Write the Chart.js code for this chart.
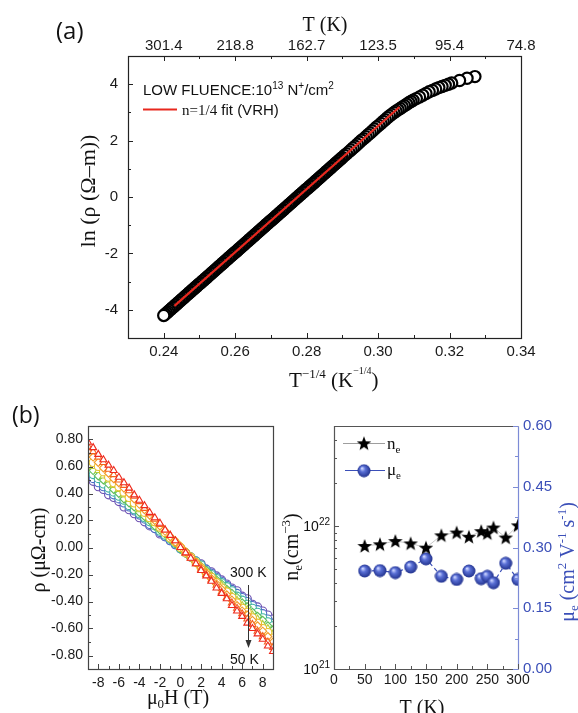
<!DOCTYPE html>
<html><head><meta charset="utf-8">
<script src="https://cdn.jsdelivr.net/npm/chart.js@4.4.1/dist/chart.umd.min.js"></script>
<style>
html,body{margin:0;padding:0;background:#fff;width:578px;height:713px;overflow:hidden}
.c{position:absolute}
</style></head><body>
<div class="c" style="left:0;top:0;width:578px;height:400px"><canvas id="ca"></canvas></div>
<div class="c" style="left:0;top:400px;width:300px;height:313px"><canvas id="cb1"></canvas></div>
<div class="c" style="left:270px;top:400px;width:308px;height:313px"><canvas id="cb2"></canvas></div>
<script>
// ---------- DATA: panel (a) ----------
const lnX = [
0.2400,0.2404,0.2408,0.2412,0.2416,0.2420,0.2424,0.2428,0.2432,0.2436,0.2440,0.2444,0.2448,0.2452,0.2456,0.2460,0.2464,0.2468,0.2472,0.2476,0.2480,0.2484,0.2488,0.2492,0.2496,
0.2500,0.2504,0.2508,0.2512,0.2516,0.2520,0.2524,0.2528,0.2532,0.2536,0.2540,0.2544,0.2548,0.2552,0.2556,0.2560,0.2564,0.2568,0.2572,0.2576,0.2580,0.2584,0.2588,0.2592,0.2596,
0.2600,0.2604,0.2608,0.2612,0.2616,0.2620,0.2624,0.2628,0.2632,0.2636,0.2640,0.2644,0.2648,0.2652,0.2656,0.2660,0.2664,0.2668,0.2672,0.2676,0.2680,0.2684,0.2688,0.2692,0.2696,
0.2700,0.2704,0.2708,0.2712,0.2716,0.2720,0.2724,0.2728,0.2732,0.2736,0.2740,0.2744,0.2748,0.2752,0.2756,0.2760,0.2764,0.2768,0.2772,0.2776,0.2780,0.2784,0.2788,0.2792,0.2796,
0.2800,0.2804,0.2808,0.2812,0.2816,0.2820,0.2824,0.2828,0.2832,0.2836,0.2840,0.2844,0.2848,0.2852,0.2856,0.2860,0.2864,0.2868,0.2872,0.2876,0.2880,0.2884,0.2888,0.2892,0.2896,
0.2900,
0.2906,0.2912,0.2918,0.2924,0.2930,0.2936,0.2942,0.2948,0.2954,0.2960,0.2966,0.2972,0.2978,0.2984,0.2990,0.2996,0.3002,0.3008,0.3014,0.3020,0.3026,0.3032,0.3038,0.3044,0.3050,0.3056,0.3062,0.3068,0.3074,0.3080,0.3086,0.3092,0.3098,
0.3107,0.3116,0.3125,0.3134,0.3143,0.3152,0.3161,0.3170,0.3179,0.3188,0.3197,0.3206,
0.3228,0.3249,0.3271];
const lnRho = [
-4.20,-4.16,-4.11,-4.07,-4.02,-3.98,-3.93,-3.89,-3.84,-3.80,-3.75,-3.71,-3.66,-3.62,-3.57,-3.53,-3.48,-3.44,-3.39,-3.35,-3.30,-3.26,-3.21,-3.17,-3.12,
-3.08,-3.04,-2.99,-2.95,-2.90,-2.86,-2.81,-2.77,-2.72,-2.68,-2.63,-2.59,-2.54,-2.50,-2.45,-2.41,-2.36,-2.32,-2.27,-2.23,-2.18,-2.14,-2.09,-2.05,-2.00,
-1.96,-1.92,-1.87,-1.83,-1.78,-1.74,-1.69,-1.65,-1.60,-1.56,-1.51,-1.47,-1.42,-1.38,-1.33,-1.29,-1.24,-1.20,-1.15,-1.11,-1.06,-1.02,-0.97,-0.93,-0.88,
-0.84,-0.80,-0.75,-0.71,-0.66,-0.62,-0.57,-0.53,-0.48,-0.44,-0.39,-0.35,-0.30,-0.26,-0.21,-0.17,-0.12,-0.08,-0.03,0.01,0.06,0.10,0.15,0.19,0.24,
0.28,0.32,0.37,0.41,0.46,0.50,0.55,0.59,0.64,0.68,0.73,0.77,0.82,0.86,0.91,0.95,1.00,1.04,1.09,1.13,1.18,1.22,1.27,1.31,1.36,
1.40,
1.47,1.53,1.60,1.67,1.74,1.80,1.87,1.94,2.01,2.07,2.14,2.21,2.27,2.34,2.41,2.48,2.54,2.61,2.68,2.74,2.81,2.87,2.93,2.99,3.04,3.09,3.14,3.19,3.24,3.29,3.34,3.39,3.43,
3.49,3.55,3.61,3.67,3.73,3.78,3.83,3.88,3.92,3.96,4.00,4.04,
4.13,4.21,4.27];
const fitX = [0.243, 0.306];
const fitY = [-3.86, 3.19];
const xTicksA = [0.24,0.26,0.28,0.30,0.32,0.34];
const xMinorA = [0.23,0.25,0.27,0.29,0.31,0.33];
const yTicksA = [-4,-2,0,2,4];
const yMinorA = [-3,-1,1,3];

// ---------- DATA: panel (b) left, Hall resistivity ----------
const fieldH = [-9,-8.5,-8,-7.5,-7,-6.5,-6,-5.5,-5,-4.5,-4,-3.5,-3,-2.5,-2,-1.5,-1,-0.5,0,0.5,1,1.5,2,2.5,3,3.5,4,4.5,5,5.5,6,6.5,7,7.5,8,8.5,9];
const rho50K  = [0.78,0.74,0.69,0.65,0.61,0.57,0.52,0.48,0.44,0.39,0.35,0.31,0.26,0.22,0.18,0.13,0.09,0.05,0.00,-0.04,-0.08,-0.12,-0.17,-0.21,-0.25,-0.30,-0.34,-0.38,-0.43,-0.47,-0.51,-0.56,-0.60,-0.64,-0.68,-0.73,-0.77];
const rho75K  = [0.75,0.71,0.67,0.63,0.58,0.54,0.50,0.46,0.42,0.38,0.34,0.29,0.25,0.21,0.17,0.13,0.09,0.05,0.00,-0.04,-0.08,-0.12,-0.16,-0.20,-0.24,-0.28,-0.33,-0.37,-0.41,-0.45,-0.49,-0.53,-0.57,-0.62,-0.66,-0.70,-0.74];
const rho100K = [0.71,0.67,0.63,0.59,0.55,0.51,0.48,0.44,0.40,0.36,0.32,0.28,0.24,0.20,0.16,0.12,0.08,0.04,0.01,-0.03,-0.07,-0.11,-0.15,-0.19,-0.23,-0.27,-0.31,-0.35,-0.39,-0.43,-0.47,-0.50,-0.54,-0.58,-0.62,-0.66,-0.70];
const rho150K = [0.67,0.63,0.60,0.56,0.52,0.48,0.45,0.41,0.37,0.33,0.30,0.26,0.22,0.19,0.15,0.11,0.07,0.04,0.00,-0.04,-0.07,-0.11,-0.15,-0.19,-0.22,-0.26,-0.30,-0.33,-0.37,-0.41,-0.45,-0.48,-0.52,-0.56,-0.60,-0.63,-0.67];
const rho200K = [0.64,0.60,0.57,0.53,0.50,0.46,0.43,0.39,0.36,0.32,0.28,0.25,0.21,0.18,0.14,0.11,0.07,0.04,0.00,-0.04,-0.07,-0.11,-0.14,-0.18,-0.21,-0.25,-0.28,-0.32,-0.36,-0.39,-0.43,-0.46,-0.50,-0.53,-0.57,-0.60,-0.64];
const rho225K = [0.60,0.57,0.53,0.50,0.47,0.43,0.40,0.36,0.33,0.30,0.26,0.23,0.20,0.16,0.13,0.10,0.06,0.03,-0.01,-0.04,-0.07,-0.11,-0.14,-0.17,-0.21,-0.24,-0.27,-0.31,-0.34,-0.37,-0.41,-0.44,-0.48,-0.51,-0.54,-0.58,-0.61];
const rho250K = [0.57,0.54,0.51,0.47,0.44,0.41,0.38,0.35,0.31,0.28,0.25,0.22,0.19,0.16,0.12,0.09,0.06,0.03,-0.01,-0.04,-0.07,-0.10,-0.13,-0.17,-0.20,-0.23,-0.26,-0.29,-0.32,-0.36,-0.39,-0.42,-0.45,-0.48,-0.52,-0.55,-0.58];
const rho275K = [0.54,0.51,0.48,0.45,0.42,0.39,0.36,0.33,0.30,0.27,0.24,0.21,0.17,0.14,0.11,0.08,0.05,0.02,-0.01,-0.04,-0.07,-0.10,-0.13,-0.16,-0.19,-0.22,-0.25,-0.28,-0.31,-0.34,-0.37,-0.40,-0.43,-0.46,-0.49,-0.53,-0.56];
const rho300K = [0.51,0.49,0.45,0.43,0.39,0.37,0.34,0.30,0.28,0.25,0.22,0.19,0.16,0.14,0.10,0.08,0.05,0.02,-0.01,-0.04,-0.07,-0.10,-0.12,-0.16,-0.18,-0.21,-0.24,-0.27,-0.30,-0.32,-0.36,-0.38,-0.42,-0.44,-0.47,-0.50,-0.53];
const hallSeries = [rho50K,rho75K,rho100K,rho150K,rho200K,rho225K,rho250K,rho275K,rho300K];
const hallColors = ['#ee2a1c','#f4621e','#f39a24','#e6c22a','#b2cf3c','#5fbf58','#3fb3a4','#4b6cc6','#6a4db0'];
const hallStyles = ['triangle','triangle','rectRot','circle','triangle','rectRot','circle','circle','circle'];
const xTicksB1 = [-8,-6,-4,-2,0,2,4,6,8];
const xMinorB1 = [-7,-5,-3,-1,1,3,5,7];
const yTicksB1 = [-0.8,-0.6,-0.4,-0.2,0,0.2,0.4,0.6,0.8];
const yMinorB1 = [-0.7,-0.5,-0.3,-0.1,0.1,0.3,0.5,0.7];

// ---------- DATA: panel (b) right ----------
const tempK = [50,75,100,125,150,175,200,220,240,250,260,280,300];
const nE    = [7.25e21,7.45e21,7.85e21,7.55e21,7.05e21,8.6e21,9.0e21,8.4e21,9.2e21,8.9e21,9.75e21,8.3e21,1.01e22];
const muE   = [0.242,0.243,0.238,0.252,0.272,0.229,0.221,0.242,0.223,0.229,0.213,0.261,0.221];
const xTicksB2 = [0,50,100,150,200,250,300];
const xMinorB2 = [25,75,125,175,225,275];
const yLogMajor = [1e21,1e22];
const yLogMinor = [2e21,3e21,4e21,5e21,6e21,7e21,8e21,9e21,2e22,3e22,4e22];
const muTicks = [0,0.15,0.30,0.45,0.60];
const muMinor = [0.075,0.225,0.375,0.525];

// ---------- helpers ----------
const SANS = '"Liberation Sans", Arial, sans-serif';
const SERIF = '"Liberation Serif", "Times New Roman", serif';
const BLUE = '#3b4fb8';
function rich(ctx, segs, x, y, align, rot, color) {
  ctx.save(); ctx.translate(x, y); if (rot) ctx.rotate(rot);
  ctx.fillStyle = color || '#111'; ctx.textBaseline = 'alphabetic'; ctx.textAlign = 'left';
  let w = 0;
  for (const s of segs) { ctx.font = s[1] + 'px ' + (s[3] || SERIF); w += ctx.measureText(s[0]).width; }
  let cx = align === 'center' ? -w / 2 : (align === 'right' ? -w : 0);
  for (const s of segs) { ctx.font = s[1] + 'px ' + (s[3] || SERIF); ctx.fillText(s[0], cx, s[2] || 0); cx += ctx.measureText(s[0]).width; }
  ctx.restore();
}
function tickH(ctx, scale, vals, yEdge, dir, len) {
  for (const v of vals) { const p = Math.round(scale.getPixelForValue(v)) + 0.5; ctx.beginPath(); ctx.moveTo(p, yEdge); ctx.lineTo(p, yEdge + dir * len); ctx.stroke(); }
}
function tickV(ctx, scale, vals, xEdge, dir, len) {
  for (const v of vals) { const p = Math.round(scale.getPixelForValue(v)) + 0.5; ctx.beginPath(); ctx.moveTo(xEdge, p); ctx.lineTo(xEdge + dir * len, p); ctx.stroke(); }
}
function setTicks(arr) { return s => { s.ticks = arr.map(v => ({ value: v })); }; }
function hideGrid() { return { display: false, drawTicks: false }; }

// marker images
const starImg = document.createElement('canvas'); starImg.width = 16; starImg.height = 16;
(function () { const c = starImg.getContext('2d'); c.fillStyle = '#000'; c.beginPath();
  for (let i = 0; i < 10; i++) { const r = i % 2 ? 3.2 : 7.6; const a = -Math.PI / 2 + i * Math.PI / 5; c.lineTo(8 + r * Math.cos(a), 8.6 + r * Math.sin(a)); }
  c.closePath(); c.fill(); })();
const ballImg = document.createElement('canvas'); ballImg.width = 14; ballImg.height = 14;
(function () { const c = ballImg.getContext('2d'); const g = c.createRadialGradient(5, 4.5, 0.5, 7, 7, 6.8);
  g.addColorStop(0, '#c9d2ff'); g.addColorStop(0.35, '#5a70d6'); g.addColorStop(1, '#1f2f8a');
  c.fillStyle = g; c.beginPath(); c.arc(7, 7, 6.5, 0, Math.PI * 2); c.fill(); })();

Chart.defaults.animation = false;
Chart.defaults.events = [];
Chart.defaults.plugins.legend.display = false;
Chart.defaults.plugins.tooltip.enabled = false;

// ---------- Panel (a) ----------
const ptsA = lnX.map((x, i) => ({ x: x, y: lnRho[i] })).reverse();
new Chart(document.getElementById('ca'), {
  type: 'scatter',
  data: { datasets: [
    { data: fitX.map((x, i) => ({ x: x, y: fitY[i] })), showLine: true, borderColor: '#e8281e', borderWidth: 2.2, pointRadius: 0 },
    { data: ptsA, pointRadius: 5.6, pointBorderWidth: 2.2, borderColor: '#000', backgroundColor: '#fff' }
  ] },
  options: {
    responsive: true, maintainAspectRatio: false,
    layout: { padding: { left: 0, right: 57, top: 0, bottom: 0 } },
    scales: {
      x: { type: 'linear', position: 'bottom', min: 0.23, max: 0.34, afterBuildTicks: setTicks(xTicksA), afterFit: s => { s.height = 62; },
        grid: hideGrid(), border: { display: false },
        ticks: { font: { family: SANS, size: 15 }, color: '#1a1a1a', padding: 5, maxRotation: 0, autoSkip: false, callback: v => v.toFixed(2) } },
      xTop: { type: 'linear', position: 'top', min: 0.23, max: 0.34, afterBuildTicks: setTicks(xTicksA), afterFit: s => { s.height = 56; },
        grid: hideGrid(), border: { display: false },
        ticks: { font: { family: SANS, size: 15 }, color: '#1a1a1a', padding: 1, maxRotation: 0, autoSkip: false, callback: v => (1 / Math.pow(v, 4)).toFixed(1) } },
      y: { type: 'linear', min: -5, max: 5, afterBuildTicks: setTicks(yTicksA), afterFit: s => { s.width = 128; },
        grid: hideGrid(), border: { display: false },
        ticks: { font: { family: SANS, size: 15 }, color: '#1a1a1a', padding: 10, callback: v => String(v) } }
    }
  },
  plugins: [{ id: 'decA', afterDatasetsDraw(chart) {
    const ctx = chart.ctx, a = chart.chartArea, sc = chart.scales;
    ctx.save(); ctx.strokeStyle = '#222'; ctx.lineWidth = 1.2;
    ctx.strokeRect(Math.round(a.left) + 0.5, Math.round(a.top) + 0.5, Math.round(a.right - a.left), Math.round(a.bottom - a.top));
    ctx.lineWidth = 1;
    tickH(ctx, sc.x, xTicksA, a.bottom, -1, 5); tickH(ctx, sc.x, xMinorA, a.bottom, -1, 3);
    tickH(ctx, sc.xTop, xTicksA, a.top, 1, 5); tickH(ctx, sc.xTop, xMinorA, a.top, 1, 3);
    tickV(ctx, sc.y, yTicksA, a.left, 1, 5); tickV(ctx, sc.y, yMinorA, a.left, 1, 3);
    // legend
    ctx.strokeStyle = '#e8281e'; ctx.lineWidth = 2.2; ctx.beginPath(); ctx.moveTo(143, 109.5); ctx.lineTo(177, 109.5); ctx.stroke();
    ctx.restore();
    rich(ctx, [['LOW FLUENCE:10', 15, 0, SANS], ['13', 10, -6, SANS], [' N', 15, 0, SANS], ['+', 10, -6, SANS], ['/cm', 15, 0, SANS], ['2', 10, -6, SANS]], 143, 95, 'left');
    rich(ctx, [['n=1/4', 15, 0, SERIF], [' fit (VRH)', 15, 0, SANS]], 182, 115, 'left');
    rich(ctx, [['(a)', 24, 0, '"Open Sans", ' + SANS]], 56, 39, 'left');
    rich(ctx, [['T (K)', 20, 0]], 325, 31, 'center');
    rich(ctx, [['ln (ρ (Ω–m))', 22, 0]], 95, 191, 'center', -Math.PI / 2);
    rich(ctx, [['T', 21, 0], ['−1/4', 13, -9], [' (K', 21, 0], ['−1/4', 10, -13], [')', 21, 0]], 289, 387, 'left');
  } }]
});

// ---------- Panel (b) left ----------
new Chart(document.getElementById('cb1'), {
  type: 'scatter',
  data: { datasets: hallSeries.map((ser, k) => ({
    data: fieldH.map((h, i) => ({ x: h, y: ser[i] })),
    pointStyle: hallStyles[k], pointRadius: 4, pointBorderWidth: 1.1,
    borderColor: hallColors[k], backgroundColor: '#fff', clip: 0
  })) },
  options: {
    responsive: true, maintainAspectRatio: false,
    layout: { padding: { left: 0, right: 27, top: 26, bottom: 0 } },
    scales: {
      x: { type: 'linear', min: -9, max: 9, afterBuildTicks: setTicks(xTicksB1), afterFit: s => { s.height = 44; },
        grid: hideGrid(), border: { display: false },
        ticks: { font: { family: SANS, size: 14 }, color: '#1a1a1a', padding: 6, maxRotation: 0, autoSkip: false, callback: v => String(v) } },
      y: { type: 'linear', min: -0.9, max: 0.9, afterBuildTicks: setTicks(yTicksB1), afterFit: s => { s.width = 88; },
        grid: hideGrid(), border: { display: false },
        ticks: { font: { family: SANS, size: 14 }, color: '#1a1a1a', padding: 5, autoSkip: false, callback: v => v.toFixed(2) } }
    }
  },
  plugins: [{ id: 'decB1', afterDatasetsDraw(chart) {
    const ctx = chart.ctx, a = chart.chartArea, sc = chart.scales;
    ctx.save(); ctx.strokeStyle = '#444'; ctx.lineWidth = 1.2;
    ctx.strokeRect(Math.round(a.left) + 0.5, Math.round(a.top) + 0.5, Math.round(a.right - a.left), Math.round(a.bottom - a.top));
    ctx.lineWidth = 1;
    tickH(ctx, sc.x, xTicksB1, a.bottom, -1, 5); tickH(ctx, sc.x, xMinorB1, a.bottom, -1, 3);
    tickV(ctx, sc.y, yTicksB1, a.left, 1, 5); tickV(ctx, sc.y, yMinorB1, a.left, 1, 3);
    // arrow 300 K -> 50 K
    ctx.strokeStyle = '#333'; ctx.lineWidth = 1; ctx.beginPath(); ctx.moveTo(248.5, 185); ctx.lineTo(248.5, 242); ctx.stroke();
    ctx.fillStyle = '#333'; ctx.beginPath(); ctx.moveTo(245.5, 240); ctx.lineTo(251.5, 240); ctx.lineTo(248.5, 248); ctx.closePath(); ctx.fill();
    ctx.restore();
    rich(ctx, [['300 K', 14, 0, SANS]], 230, 176.5, 'left');
    rich(ctx, [['50 K', 14, 0, SANS]], 230, 263.5, 'left');
    rich(ctx, [['(b)', 23, 0, '"Open Sans", ' + SANS]], 12, 23, 'left');
    rich(ctx, [['ρ (μΩ-cm)', 20, 0]], 45, 150, 'center', -Math.PI / 2);
    rich(ctx, [['μ', 20, 0], ['0', 13, 4], ['H (T)', 20, 0]], 178, 304, 'center');
  } }]
});

// ---------- Panel (b) right ----------
new Chart(document.getElementById('cb2'), {
  type: 'scatter',
  data: { datasets: [
    { data: tempK.map((t, i) => ({ x: t, y: nE[i] })), yAxisID: 'y', pointStyle: starImg, showLine: true,
      borderColor: 'rgba(80,80,80,0.55)', borderWidth: 0.6, clip: 0 },
    { data: tempK.map((t, i) => ({ x: t, y: muE[i] })), yAxisID: 'y2', pointStyle: ballImg, showLine: true,
      borderColor: BLUE, borderWidth: 1.2, borderDash: [4, 3], clip: 0 }
  ] },
  options: {
    responsive: true, maintainAspectRatio: false,
    layout: { padding: { left: 0, right: 0, top: 26, bottom: 0 } },
    scales: {
      x: { type: 'linear', min: 0, max: 300, afterBuildTicks: setTicks(xTicksB2), afterFit: s => { s.height = 44; },
        grid: hideGrid(), border: { display: false },
        ticks: { font: { family: SANS, size: 14 }, color: '#1a1a1a', padding: 3, maxRotation: 0, autoSkip: false, callback: v => String(v) } },
      y: { type: 'logarithmic', position: 'left', min: 1e21, max: 5e22, afterBuildTicks: setTicks(yLogMajor), afterFit: s => { s.width = 64; },
        grid: hideGrid(), border: { display: false }, ticks: { display: false } },
      y2: { type: 'linear', position: 'right', min: 0, max: 0.6, afterBuildTicks: setTicks(muTicks), afterFit: s => { s.width = 60; },
        grid: hideGrid(), border: { display: false },
        ticks: { font: { family: SANS, size: 15 }, color: BLUE, padding: 5, autoSkip: false, callback: v => v.toFixed(2) } }
    }
  },
  plugins: [{ id: 'decB2', afterDatasetsDraw(chart) {
    const ctx = chart.ctx, a = chart.chartArea, sc = chart.scales;
    const L = Math.round(a.left) + 0.5, R = Math.round(a.right) + 0.5, T = Math.round(a.top) + 0.5, B = Math.round(a.bottom) + 0.5;
    ctx.save(); ctx.lineWidth = 1.2; ctx.strokeStyle = '#555';
    ctx.beginPath(); ctx.moveTo(R, T); ctx.lineTo(L, T); ctx.lineTo(L, B); ctx.lineTo(R, B); ctx.stroke();
    ctx.strokeStyle = '#7d8bd6'; ctx.beginPath(); ctx.moveTo(R, T); ctx.lineTo(R, B); ctx.stroke();
    ctx.lineWidth = 1; ctx.strokeStyle = '#555';
    tickH(ctx, sc.x, xTicksB2, a.bottom, -1, 5); tickH(ctx, sc.x, xMinorB2, a.bottom, -1, 3);
    tickV(ctx, sc.y, yLogMajor, a.left, 1, 5); tickV(ctx, sc.y, yLogMinor, a.left, 1, 3);
    ctx.strokeStyle = '#7d8bd6';
    tickV(ctx, sc.y2, muTicks, a.right, -1, 5); tickV(ctx, sc.y2, muMinor, a.right, -1, 3);
    // legend
    ctx.strokeStyle = 'rgba(80,80,80,0.7)'; ctx.lineWidth = 0.8; ctx.beginPath(); ctx.moveTo(73, 43.5); ctx.lineTo(115, 43.5); ctx.stroke();
    ctx.drawImage(starImg, 94 - 8, 43.3 - 8);
    ctx.strokeStyle = BLUE; ctx.lineWidth = 1.2; ctx.beginPath(); ctx.moveTo(75, 70.5); ctx.lineTo(115, 70.5); ctx.stroke();
    ctx.drawImage(ballImg, 94 - 7, 70.7 - 7);
    ctx.restore();
    rich(ctx, [['n', 17, 0], ['e', 11, 4]], 117, 48.5, 'left');
    rich(ctx, [['μ', 17, 0], ['e', 11, 4]], 117, 75, 'left');
    // log tick labels
    for (const v of yLogMajor) {
      const p = sc.y.getPixelForValue(v);
      rich(ctx, [['10', 14, 0, SANS], [String(Math.round(Math.log10(v))), 10, -6, SANS]], a.left - 4, p + 5, 'right');
    }
    rich(ctx, [['n', 20, 0], ['e', 13, 4], ['(cm', 20, 0], ['−3', 13, -8], [')', 20, 0]], 28, 147, 'center', -Math.PI / 2);
    rich(ctx, [['μ', 20, 0], ['e', 13, 4], [' (cm', 20, 0], ['2', 13, -8], [' V', 20, 0], ['-1', 13, -8], [' s', 20, 0], ['-1', 13, -8], [')', 20, 0]], 304, 162, 'center', -Math.PI / 2, BLUE);
    rich(ctx, [['T (K)', 20, 0]], 152, 314, 'center');
  } }]
});
</script>
</body></html>
